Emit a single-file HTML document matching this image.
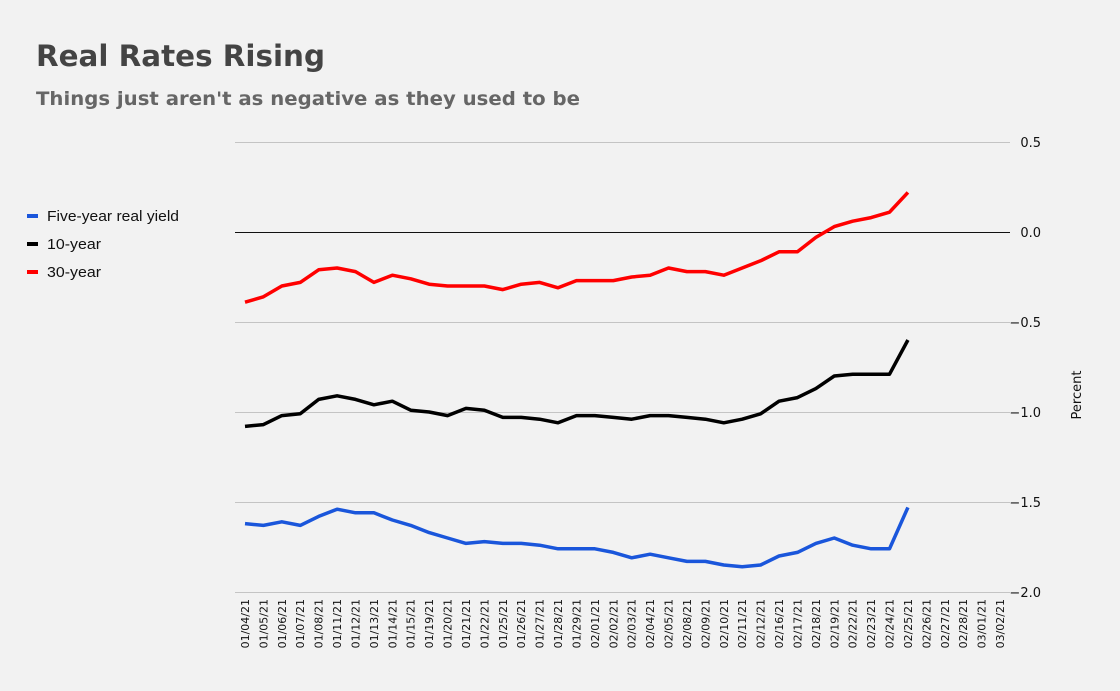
<!DOCTYPE html>
<html><head><meta charset="utf-8"><style>
html,body{margin:0;padding:0;background:#f2f2f2;}
svg{display:block;font-family:"DejaVu Sans","Liberation Sans",sans-serif;}
</style></head><body>
<svg id="chart" width="1120" height="691" viewBox="0 0 1120 691">
<rect width="1120" height="691" fill="#f2f2f2"/>
<text x="36" y="66" font-size="29" font-weight="bold" fill="#444" textLength="289" lengthAdjust="spacingAndGlyphs">Real Rates Rising</text>
<text x="36" y="105" font-size="19" font-weight="bold" fill="#666" textLength="544" lengthAdjust="spacingAndGlyphs">Things just aren't as negative as they used to be</text>
<g font-family="'Liberation Sans',sans-serif">
<g><rect x="27" y="214" width="11" height="4" fill="#1a56db"/><text x="47" y="221" font-size="14.5" fill="#111" textLength="132" lengthAdjust="spacingAndGlyphs">Five-year real yield</text></g>
<g><rect x="27" y="242" width="11" height="4" fill="#000"/><text x="47" y="249" font-size="14.5" fill="#111" textLength="54" lengthAdjust="spacingAndGlyphs">10-year</text></g>
<g><rect x="27" y="270" width="11" height="4" fill="#ff0000"/><text x="47" y="277" font-size="14.5" fill="#111" textLength="54" lengthAdjust="spacingAndGlyphs">30-year</text></g>
</g>
<g id="grid"></g><g id="xlabels"></g><g id="lines"></g>
<text transform="translate(1081,395) rotate(-90)" text-anchor="middle" font-size="13" fill="#111">Percent</text>
</svg>
<script>
const categories=["01/04/21","01/05/21","01/06/21","01/07/21","01/08/21","01/11/21","01/12/21","01/13/21","01/14/21","01/15/21","01/19/21","01/20/21","01/21/21","01/22/21","01/25/21","01/26/21","01/27/21","01/28/21","01/29/21","02/01/21","02/02/21","02/03/21","02/04/21","02/05/21","02/08/21","02/09/21","02/10/21","02/11/21","02/12/21","02/16/21","02/17/21","02/18/21","02/19/21","02/22/21","02/23/21","02/24/21","02/25/21","02/26/21","02/27/21","02/28/21","03/01/21","03/02/21"];
const fiveYear=[-1.62,-1.63,-1.61,-1.63,-1.58,-1.54,-1.56,-1.56,-1.60,-1.63,-1.67,-1.70,-1.73,-1.72,-1.73,-1.73,-1.74,-1.76,-1.76,-1.76,-1.78,-1.81,-1.79,-1.81,-1.83,-1.83,-1.85,-1.86,-1.85,-1.80,-1.78,-1.73,-1.70,-1.74,-1.76,-1.76,-1.53];
const tenYear=[-1.08,-1.07,-1.02,-1.01,-0.93,-0.91,-0.93,-0.96,-0.94,-0.99,-1.00,-1.02,-0.98,-0.99,-1.03,-1.03,-1.04,-1.06,-1.02,-1.02,-1.03,-1.04,-1.02,-1.02,-1.03,-1.04,-1.06,-1.04,-1.01,-0.94,-0.92,-0.87,-0.80,-0.79,-0.79,-0.79,-0.60];
const thirtyYear=[-0.39,-0.36,-0.30,-0.28,-0.21,-0.20,-0.22,-0.28,-0.24,-0.26,-0.29,-0.30,-0.30,-0.30,-0.32,-0.29,-0.28,-0.31,-0.27,-0.27,-0.27,-0.25,-0.24,-0.20,-0.22,-0.22,-0.24,-0.20,-0.16,-0.11,-0.11,-0.03,0.03,0.06,0.08,0.11,0.22];
const yTicks=[0.5,0.0,-0.5,-1.0,-1.5,-2.0];
const yTickLabels=["0.5","0.0","\u22120.5","\u22121.0","\u22121.5","\u22122.0"];
const NS="http://www.w3.org/2000/svg";
const x=i=>245+i*(755/41);
const y=v=>232-v*180;
const grid=document.getElementById('grid');
yTicks.forEach((t,k)=>{
  const l=document.createElementNS(NS,'line');
  l.setAttribute('x1',235);l.setAttribute('x2',1010);
  l.setAttribute('y1',y(t)+0.5);l.setAttribute('y2',y(t)+0.5);
  l.setAttribute('stroke',t===0?'#111':'#c4c4c4');l.setAttribute('stroke-width',1);
  
  
  grid.appendChild(l);
  const tx=document.createElementNS(NS,'text');
  tx.setAttribute('x',1041);tx.setAttribute('y',y(t)+5);
  tx.setAttribute('text-anchor','end');tx.setAttribute('font-size','13');tx.setAttribute('fill','#111');
  tx.textContent=yTickLabels[k];
  
  
  grid.appendChild(tx);
});
const xl=document.getElementById('xlabels');
categories.forEach((c,i)=>{
  const tx=document.createElementNS(NS,'text');
  tx.setAttribute('transform','translate('+(x(i)+4)+',599) rotate(-90)');
  tx.setAttribute('text-anchor','end');tx.setAttribute('font-size','11');tx.setAttribute('fill','#111');
  tx.textContent=c;
  
  
  xl.appendChild(tx);
});
const lines=document.getElementById('lines');
[[fiveYear,'#1a56db','five-year-line'],[tenYear,'#000','ten-year-line'],[thirtyYear,'#ff0000','thirty-year-line']].forEach(([d,col,nm])=>{
  const p=document.createElementNS(NS,'polyline');
  p.setAttribute('points',d.map((v,i)=>x(i)+','+y(v)).join(' '));
  p.setAttribute('fill','none');p.setAttribute('stroke',col);p.setAttribute('stroke-width',3.5);
  p.setAttribute('stroke-linejoin','round');
  
  
  lines.appendChild(p);
});
</script>
</body></html>
